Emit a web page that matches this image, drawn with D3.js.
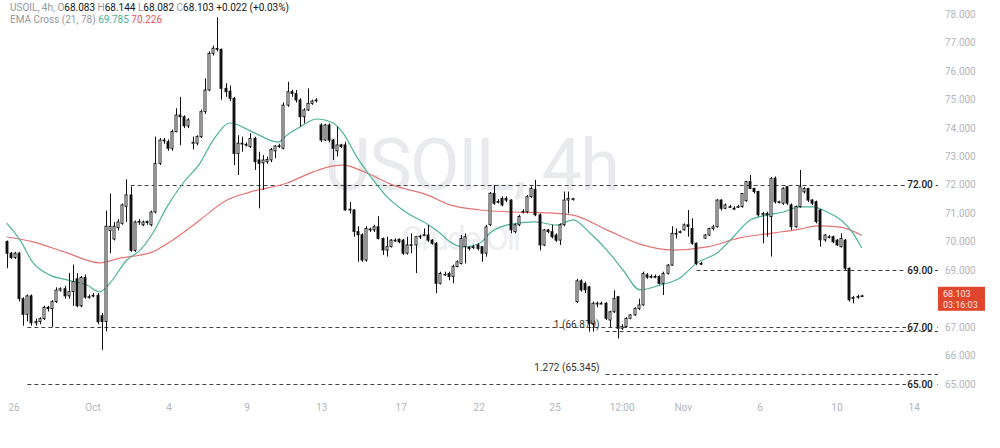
<!DOCTYPE html>
<html><head><meta charset="utf-8">
<script src="https://cdn.jsdelivr.net/npm/d3@7"></script>
<style>body{margin:0;background:#fff}svg{display:block;font-family:Roboto,"Noto Sans",sans-serif}</style>
</head><body><svg id="c" width="1000" height="448"></svg>
<script>
// ---- data ----
const opens=[70.01,69.60,69.45,69.60,68.00,67.45,68.10,67.15,67.20,67.30,67.70,67.65,67.90,68.30,68.35,68.10,68.25,68.70,67.75,68.75,68.05,68.10,68.12,67.40,67.20,70.40,70.10,70.50,70.65,71.25,71.65,69.70,70.70,70.60,70.72,70.60,71.05,72.76,73.55,73.52,73.29,73.88,74.46,74.40,74.08,73.47,73.47,73.70,74.58,75.34,76.63,76.80,76.77,75.40,75.30,75.05,73.11,73.45,73.43,73.35,73.64,72.88,72.78,72.82,72.88,73.20,73.37,73.29,74.81,75.28,75.22,74.99,74.40,74.64,74.87,74.97,74.11,73.58,74.11,73.58,73.20,73.41,73.41,71.12,71.12,70.36,70.25,69.36,70.45,70.42,70.53,70.12,69.71,69.83,70.06,70.09,70.06,69.60,69.89,69.89,70.18,70.24,70.24,70.06,69.95,68.54,68.84,68.89,68.78,69.13,69.24,69.83,69.80,69.83,69.89,69.83,69.60,70.60,71.71,71.41,71.53,71.53,71.47,70.36,70.60,71.06,71.06,71.59,71.85,70.95,69.89,70.42,70.36,70.24,70.06,70.60,71.47,71.51,67.90,68.63,68.54,68.42,67.13,67.84,67.84,67.84,67.25,67.54,68.07,66.96,67.02,67.31,67.43,67.66,67.78,68.84,68.78,68.78,68.78,68.54,68.89,69.18,70.30,70.36,70.42,70.60,70.47,69.95,69.24,70.13,70.24,70.47,70.53,71.47,71.18,71.24,71.18,71.24,71.24,71.45,72.12,71.88,71.77,70.95,71.00,70.89,72.24,71.41,71.36,71.94,71.30,70.53,71.24,71.76,71.88,71.47,71.41,71.12,70.07,70.18,70.18,70.06,69.83,70.06,69.07,68.01,68.07,68.083];
const highs=[70.05,69.65,69.65,69.65,68.05,68.15,68.15,67.30,67.35,67.75,67.75,67.95,68.40,68.40,68.45,68.90,69.20,68.90,68.80,68.85,68.15,68.20,68.20,67.50,71.10,71.70,70.70,70.80,71.35,72.20,71.95,70.75,70.80,70.75,70.75,71.10,73.70,73.65,73.65,73.60,73.95,74.70,75.10,74.45,74.35,73.70,73.75,74.65,75.75,76.70,76.90,77.90,76.80,75.58,75.50,75.10,73.75,73.70,73.50,73.82,73.70,73.17,73.05,73.00,73.30,73.40,73.45,74.90,75.63,75.35,75.34,75.05,74.70,75.40,75.00,75.05,74.17,74.15,74.17,73.62,74.05,73.45,73.52,71.40,71.15,70.55,70.30,70.55,70.50,70.60,70.90,70.15,70.18,70.10,70.12,70.12,70.10,70.18,70.30,70.20,70.25,70.47,70.59,70.10,70.00,68.95,68.95,68.95,69.20,69.35,70.24,70.30,69.85,69.90,69.95,69.85,70.60,71.75,72.00,71.50,71.60,71.60,71.50,70.65,70.95,71.15,71.65,71.95,72.18,71.00,70.45,70.45,70.60,70.30,70.65,71.77,71.77,71.55,68.70,68.68,68.60,68.45,67.90,67.90,67.90,67.88,67.58,68.30,68.10,67.10,67.35,67.46,67.70,68.00,68.95,68.90,68.85,68.85,68.82,68.95,69.22,70.55,70.47,70.40,70.65,71.12,70.83,69.98,69.30,70.28,70.50,70.60,71.50,71.50,71.35,71.30,71.25,71.30,71.71,72.15,72.35,71.90,71.80,71.05,71.06,72.28,72.30,71.45,71.92,71.95,71.35,71.28,72.53,71.92,71.90,71.50,71.45,71.15,70.28,70.24,70.22,70.10,70.30,70.10,69.10,68.10,68.14,68.144];
const lows=[69.07,69.40,69.40,67.90,67.05,67.20,67.05,67.05,67.10,67.25,67.55,67.00,67.85,68.25,68.00,68.00,67.75,67.70,67.70,68.00,68.00,68.05,67.10,66.20,66.85,69.60,70.05,70.40,70.60,70.70,69.65,69.65,70.60,70.55,70.60,70.55,71.00,72.70,73.45,73.20,73.20,73.85,73.40,74.00,74.00,73.25,73.40,73.65,74.50,75.30,76.55,76.70,75.00,75.10,74.95,72.70,72.35,73.17,73.35,73.30,72.53,71.18,71.82,72.75,72.80,72.94,73.30,73.25,74.75,75.10,74.90,74.05,74.17,74.60,74.82,74.90,73.50,73.55,73.50,72.88,73.00,73.30,71.10,71.00,70.18,69.30,69.30,69.30,70.35,70.35,70.08,69.54,69.48,69.80,70.00,69.95,69.54,69.55,69.60,68.90,70.10,70.20,70.00,69.90,68.19,68.50,68.80,68.65,68.54,69.10,69.20,69.24,69.70,69.75,69.70,69.30,69.48,70.55,71.30,71.35,71.25,71.40,70.30,70.30,70.55,71.00,71.00,71.55,70.90,69.70,69.85,70.30,70.12,70.00,69.89,70.55,71.00,71.45,67.85,68.25,68.20,66.84,66.84,67.70,67.80,67.25,67.00,67.50,66.60,66.90,66.98,67.28,67.40,67.60,67.75,68.70,68.72,68.72,68.50,68.13,68.85,69.15,70.12,70.30,70.40,70.18,69.90,69.18,69.18,70.10,70.20,70.40,70.50,71.10,71.15,71.20,71.12,71.20,71.20,71.41,71.85,71.70,70.89,69.95,70.18,69.48,71.35,71.35,71.30,71.30,70.42,70.50,71.20,71.70,71.40,71.30,70.65,69.83,70.00,70.12,69.95,69.85,69.80,69.00,67.90,67.84,68.00,68.082];
const closes=[69.60,69.45,69.60,68.00,67.45,68.10,67.15,67.20,67.30,67.70,67.65,67.90,68.30,68.35,68.10,68.25,68.60,67.75,68.75,68.05,68.07,68.12,67.19,67.20,70.55,70.55,70.55,70.70,71.30,71.65,69.70,70.70,70.72,70.70,70.68,71.05,72.76,73.58,73.58,73.29,73.88,74.46,74.40,74.08,74.29,73.50,73.70,74.58,75.34,76.63,76.81,76.77,75.40,75.28,75.05,73.11,73.47,73.47,73.41,73.64,72.82,72.76,72.88,72.90,73.25,73.37,73.38,74.81,75.28,75.22,74.99,74.40,74.64,74.87,74.95,74.99,73.58,74.11,73.58,73.29,73.41,73.35,71.12,71.15,70.36,70.25,69.36,70.47,70.42,70.53,70.12,69.71,69.83,70.06,70.06,70.00,69.60,69.89,69.90,70.18,70.20,70.25,70.06,69.95,68.54,68.89,68.86,68.78,69.13,69.30,70.12,70.18,69.77,69.83,69.77,69.60,70.53,71.71,71.36,71.42,71.30,71.47,70.42,70.60,70.89,71.07,71.59,71.88,70.95,69.89,70.42,70.36,70.18,70.06,70.60,71.47,71.53,71.52,68.63,68.31,68.31,67.13,67.84,67.84,67.84,67.31,67.54,68.01,66.96,67.02,67.31,67.43,67.66,67.78,68.89,68.76,68.78,68.78,68.54,68.89,69.18,70.30,70.30,70.36,70.60,70.54,69.95,69.24,69.24,70.24,70.47,70.53,71.47,71.18,71.30,71.24,71.18,71.24,71.70,72.12,71.88,71.77,70.95,71.00,70.95,72.24,71.41,71.41,71.88,71.36,70.53,71.24,71.94,71.88,71.47,71.36,70.71,70.07,70.24,70.18,70.00,69.89,70.12,69.07,67.96,68.04,68.08,68.103];

// EMA lines (candle index, price)
const emaFastIdx=[0,3.2,6.4,10.5,14.6,19.4,22.6,25,29.1,32.3,35.4,38.8,42.7,46.8,50,54.1,59.6,65.7,67.9,71,75.1,79,81.4,84.8,88.7,92.1,96.9,101.8,104.9,107.3,110.5,114.6,117,121.1,127.9,133.2,137.1,141.2,145.3,149.2,153.3,158.2,163,167.1,172,175.9,180,184.1,188,192.1,195.2,198.6,202.5,204.9,207];
const emaFastVal=[70.66,70.07,69.26,68.83,68.66,68.48,68.24,68.55,69.36,69.71,70.31,71.23,72.07,72.77,73.58,74.18,73.86,73.51,73.76,74.04,74.32,74.18,73.83,72.98,72.18,71.58,71.02,70.63,70.31,70.00,69.82,69.96,70.31,70.59,70.70,70.59,70.77,70.31,69.71,69.01,68.31,68.48,68.73,69.26,69.61,70.17,70.77,70.94,71.05,71.23,71.23,71.05,70.70,70.31,69.785];
const emaSlowIdx=[0,6.4,14.6,22.6,27.4,34.7,40.3,46.8,53.3,58.9,67.9,74.2,79,81.4,87.2,93.5,101.8,107.3,114.6,122.6,130.8,137.1,145.3,153.3,161.3,169.6,177.5,185.5,192.1,196.2,201.8,207];
const emaSlowVal=[70.17,70.00,69.61,69.26,69.43,69.61,70.07,70.77,71.47,71.75,72.07,72.46,72.67,72.70,72.42,72.00,71.65,71.30,71.12,71.05,71.02,70.94,70.42,69.92,69.71,69.82,70.14,70.31,70.45,70.56,70.52,70.226];

// time axis labels at candle index
const tickLabels=["26","Oct","4","9","13","17","22","25","12:00","Nov","6","10","14"];
const tickIdx=[1.8,20.9,39.3,58.2,76.3,95.5,114.4,132.8,149,163.8,182.4,201,219.7];
// price axis (68.000 sits under the last-price tag and is not shown)
const priceTicks=[65,66,67,69,70,71,72,73,74,75,76,77,78];
// horizontal levels
const levelValues=[72,69,67,65];
const levelLabels=["72.00","69.00","67.00","65.00"];
const levelStartIdx=[30,167,5,5];
const fibValues=[66.879,65.345];
const fibLabels=["1 (66.879)","1.272 (65.345)"];
const fibStartIdx=[145,145];
const lastPrice=68.103, lastCountdown="03:16:03";

// ---- drawing ----
const svg=d3.select("#c");
const x=d3.scaleLinear().domain([0,207]).range([6.7,861.7]);
const y=d3.scaleLinear().domain([65,78]).range([384,14.4]);
const N=opens.length;
const candles=d3.range(N).map(i=>({i,o:opens[i],h:highs[i],l:lows[i],c:closes[i]}));

// watermark
svg.append("text").attr("x",472).attr("y",190).attr("text-anchor","middle")
  .attr("font-size",72).attr("fill","#e9eaed").attr("textLength",296).text("USOIL, 4h");
svg.append("text").attr("x",461).attr("y",250).attr("text-anchor","middle")
  .attr("font-size",34).attr("fill","#eeeff2").attr("textLength",120).text("Crude Oil");

// levels
const lv=svg.append("g");
const xEnd=938;
levelValues.forEach((v,k)=>{
  lv.append("line").attr("x1",x(levelStartIdx[k])).attr("x2",xEnd)
    .attr("y1",Math.round(y(v))+0.5).attr("y2",Math.round(y(v))+0.5)
    .attr("stroke","#444").attr("stroke-width",1).attr("stroke-dasharray","4,3");
  lv.append("rect").attr("x",906).attr("y",y(v)-6).attr("width",29).attr("height",12).attr("fill","#fff");
  lv.append("text").attr("x",920).attr("y",y(v)+3.5).attr("text-anchor","middle")
    .attr("font-size",10).attr("font-weight",500).attr("fill","#131722").text(levelLabels[k]);
});
fibValues.forEach((v,k)=>{
  lv.append("line").attr("x1",x(fibStartIdx[k])).attr("x2",xEnd)
    .attr("y1",Math.round(y(v))+0.5).attr("y2",Math.round(y(v))+0.5)
    .attr("stroke","#444").attr("stroke-width",1).attr("stroke-dasharray","4,3");
  lv.append("text").attr("x",x(fibStartIdx[k])-6).attr("y",y(v)-3)
    .attr("text-anchor","end").attr("font-size",10).attr("fill","#333").text(fibLabels[k]);
});

// EMA lines
const lineGen=d3.line().curve(d3.curveMonotoneX);
svg.append("path").attr("d",lineGen(emaSlowIdx.map((d,i)=>[x(d),y(emaSlowVal[i])])))
  .attr("fill","none").attr("stroke","#e57373").attr("stroke-width",1.2);
svg.append("path").attr("d",lineGen(emaFastIdx.map((d,i)=>[x(d),y(emaFastVal[i])])))
  .attr("fill","none").attr("stroke","#4db39a").attr("stroke-width",1.2);

// candles
const cg=svg.append("g");
const bw=3;
cg.selectAll("line.w").data(candles).join("line")
  .attr("x1",d=>Math.round(x(d.i))+0.5).attr("x2",d=>Math.round(x(d.i))+0.5)
  .attr("y1",d=>y(d.h)).attr("y2",d=>y(d.l)).attr("stroke","#111").attr("stroke-width",1);
cg.selectAll("rect.b").data(candles).join("rect")
  .attr("x",d=>Math.round(x(d.i))-1)
  .attr("y",d=>y(Math.max(d.o,d.c)))
  .attr("width",bw-1)
  .attr("height",d=>Math.max(0.8,Math.abs(y(d.o)-y(d.c))))
  .attr("fill",d=>d.c>=d.o?"#fff":"#111")
  .attr("stroke","#111").attr("stroke-width",0.9);

// price axis labels
svg.append("g").selectAll("text").data(priceTicks).join("text")
  .attr("x",945).attr("y",d=>y(d)+3.5).attr("font-size",10).attr("fill","#b2b5be")
  .text(d=>d.toFixed(3));

// time axis labels
svg.append("g").selectAll("text").data(tickLabels).join("text")
  .attr("x",(d,i)=>x(tickIdx[i])).attr("y",411).attr("text-anchor","middle")
  .attr("font-size",10).attr("fill","#b2b5be").text(d=>d);

// last price box
const py=y(lastPrice);
svg.append("rect").attr("x",938).attr("y",py-9).attr("width",47).attr("height",24).attr("fill","#e0452e");
svg.append("text").attr("x",943).attr("y",py+1.5).attr("font-size",9).attr("fill","#fde5e0").text(lastPrice.toFixed(3));
svg.append("text").attr("x",943).attr("y",py+12.5).attr("font-size",9).attr("fill","#fde5e0").text(lastCountdown);

// header
const h1=svg.append("text").attr("x",10).attr("y",11).attr("font-size",10).attr("fill","#9598a1");
const last=N-1;
h1.append("tspan").text("USOIL, 4h,  O");
h1.append("tspan").attr("fill","#131722").text(opens[last].toFixed(3));
h1.append("tspan").text("  H");
h1.append("tspan").attr("fill","#131722").text(highs[last].toFixed(3));
h1.append("tspan").text("  L");
h1.append("tspan").attr("fill","#131722").text(lows[last].toFixed(3));
h1.append("tspan").text("  C");
h1.append("tspan").attr("fill","#131722").text(closes[last].toFixed(3));
h1.append("tspan").attr("fill","#131722").text("  +0.022 (+0.03%)");
const h2=svg.append("text").attr("x",10).attr("y",23).attr("font-size",10).attr("fill","#9598a1");
h2.append("tspan").text("EMA Cross (21, 78)  ");
h2.append("tspan").attr("fill","#4caf93").text(emaFastVal[emaFastVal.length-1].toFixed(3));
h2.append("tspan").text("  ");
h2.append("tspan").attr("fill","#e5545a").text(emaSlowVal[emaSlowVal.length-1].toFixed(3));
</script></body></html>
